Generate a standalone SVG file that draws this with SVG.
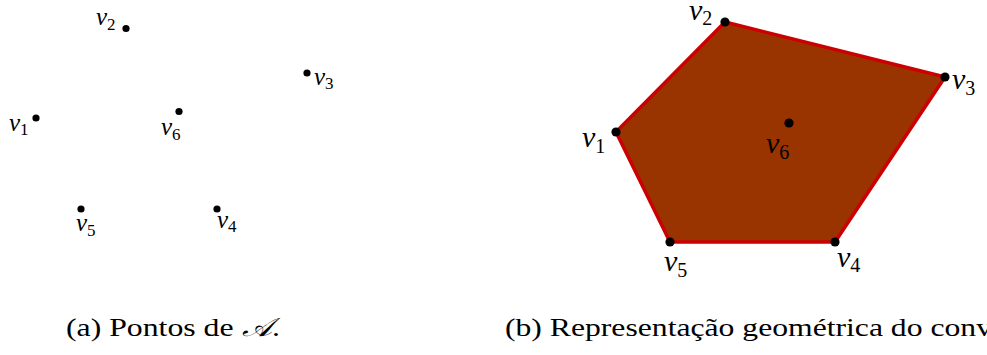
<svg xmlns="http://www.w3.org/2000/svg" width="987" height="355" viewBox="0 0 987 355">
<style>
.lbl{font-family:"Liberation Serif",serif;font-style:italic;fill:#000}
.sub{font-style:normal}
.l{font-size:25px}
.l .sub{font-size:17px}
.r{font-size:30px}
.r .sub{font-size:20px}
.cap{font-family:"Liberation Serif",serif;font-size:26px;fill:#000}
.dl{fill:#000}
</style>
<rect width="987" height="355" fill="#fff"/>
<g id="panel-a">
  <g id="a-v1"><circle class="dl" cx="36" cy="118" r="3.6"/><text class="lbl l" x="9" y="131">v<tspan class="sub" dy="4">1</tspan></text></g>
  <g id="a-v2"><circle class="dl" cx="126" cy="28.5" r="3.6"/><text class="lbl l" x="96" y="25">v<tspan class="sub" dy="5">2</tspan></text></g>
  <g id="a-v3"><circle class="dl" cx="307" cy="73" r="3.6"/><text class="lbl l" x="314" y="85">v<tspan class="sub" dy="4">3</tspan></text></g>
  <g id="a-v4"><circle class="dl" cx="217" cy="209" r="3.6"/><text class="lbl l" x="217" y="228">v<tspan class="sub" dy="4">4</tspan></text></g>
  <g id="a-v5"><circle class="dl" cx="81" cy="209" r="3.6"/><text class="lbl l" x="76" y="231">v<tspan class="sub" dy="5">5</tspan></text></g>
  <g id="a-v6"><circle class="dl" cx="179" cy="111.5" r="3.6"/><text class="lbl l" x="161" y="135">v<tspan class="sub" dy="5">6</tspan></text></g>
</g>
<g id="panel-b">
  <g id="connectors"><polygon points="616,132 725,22 945,77 835,242 670,242" fill="#993300" stroke="#cc0000" stroke-width="3.5" stroke-linejoin="round"/></g>
  <g id="b-v1"><circle class="dl" cx="616" cy="132" r="4.6"/><text class="lbl r" x="582" y="147">v<tspan class="sub" dy="6">1</tspan></text></g>
  <g id="b-v2"><circle class="dl" cx="725" cy="22" r="4.6"/><text class="lbl r" x="689" y="20">v<tspan class="sub" dy="5">2</tspan></text></g>
  <g id="b-v3"><circle class="dl" cx="945" cy="77" r="4.6"/><text class="lbl r" x="952" y="89">v<tspan class="sub" dy="6">3</tspan></text></g>
  <g id="b-v4"><circle class="dl" cx="835" cy="242" r="4.6"/><text class="lbl r" x="837" y="267">v<tspan class="sub" dy="5">4</tspan></text></g>
  <g id="b-v5"><circle class="dl" cx="670" cy="242" r="4.6"/><text class="lbl r" x="664" y="271">v<tspan class="sub" dy="6">5</tspan></text></g>
  <g id="b-v6"><circle class="dl" cx="789" cy="123" r="4.6"/><text class="lbl r" x="766" y="153">v<tspan class="sub" dy="6">6</tspan></text></g>
</g>
<text class="cap" x="66" y="336" textLength="214" lengthAdjust="spacingAndGlyphs">(a) Pontos de <tspan font-style="italic">𝒜</tspan>.</text>
<text class="cap" x="505" y="336" textLength="487" lengthAdjust="spacingAndGlyphs">(b) Representação geométrica do conv</text>
</svg>
